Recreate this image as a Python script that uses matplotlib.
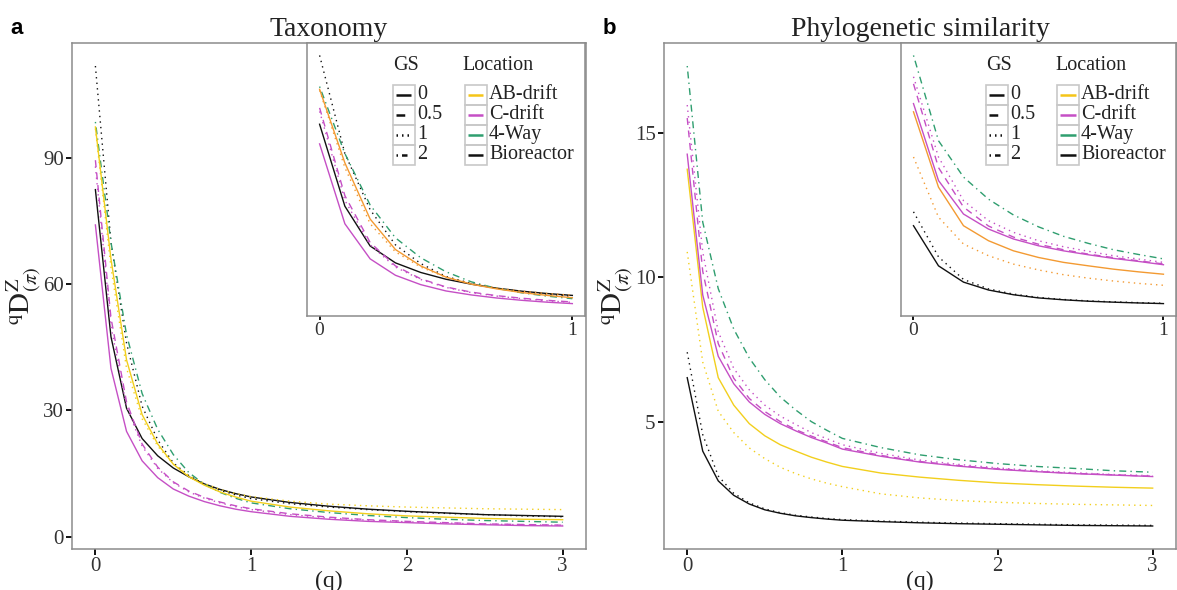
import matplotlib
matplotlib.use("Agg")
import matplotlib.pyplot as plt
from matplotlib.patches import Rectangle
from matplotlib.ticker import MultipleLocator
import numpy as np

plt.rcParams['font.family'] = ['Liberation Serif', 'DejaVu Serif']
plt.rcParams['mathtext.fontset'] = 'stix'

# order of diversity q
q = [0, 0.1, 0.2, 0.3, 0.4, 0.5, 0.6, 0.7, 0.8, 0.9, 1.0,
     1.25, 1.5, 1.75, 2.0, 2.25, 2.5, 2.75, 3.0]

# Taxonomy (panel a)
tax_bio_0 = [82.5, 47.5, 30.5, 23.3, 19.2, 16.3, 14.2, 12.5, 11.2, 10.2, 9.4,
             8.1, 7.2, 6.5, 6.0, 5.6, 5.2, 5.0, 4.8]
tax_bio_1 = [111.9, 70, 46, 31, 23, 17.5, 14.5, 12.4, 11.0, 9.9, 9.0,
             7.8, 7.0, 6.4, 5.9, 5.5, 5.2, 4.9, 4.7]
tax_4way_2 = [98.6, 70, 48, 34, 25.5, 19.5, 15.2, 12.4, 10.5, 9.1, 8.0,
              6.6, 5.7, 5.0, 4.5, 4.1, 3.8, 3.6, 3.4]
tax_ab_0 = [97.4, 66, 42, 29, 22, 17.2, 14.2, 12.2, 10.6, 9.4, 8.4,
            7.0, 6.1, 5.4, 4.9, 4.6, 4.3, 4.1, 4.0]
tax_ab_1 = [97.0, 64, 40, 28, 21.5, 17.2, 14.5, 12.6, 11.2, 10.2, 9.5,
            8.4, 7.7, 7.3, 7.0, 6.8, 6.6, 6.5, 6.4]
tax_c_05 = [89.5, 52, 32, 22, 16.5, 13.0, 10.8, 9.3, 8.2, 7.3, 6.6,
            5.4, 4.6, 4.0, 3.6, 3.3, 3.0, 2.85, 2.7]
tax_c_0 = [74.1, 40, 25, 18, 14, 11.3, 9.6, 8.3, 7.3, 6.5, 5.9,
           4.8, 4.1, 3.6, 3.3, 3.0, 2.8, 2.6, 2.5]
tax_c_1 = [88.0, 50, 31, 21.5, 16.2, 12.8, 10.6, 9.1, 8.0, 7.1, 6.4,
           5.2, 4.4, 3.9, 3.5, 3.2, 2.95, 2.8, 2.65]

# Phylogenetic similarity (panel b)
phy_bio_0 = [6.52, 3.98, 2.95, 2.45, 2.15, 1.95, 1.83, 1.74, 1.68, 1.63, 1.59,
             1.54, 1.50, 1.47, 1.45, 1.43, 1.41, 1.40, 1.39]
phy_bio_1 = [7.40, 4.55, 3.12, 2.52, 2.19, 1.98, 1.85, 1.76, 1.70, 1.65, 1.61,
             1.56, 1.52, 1.49, 1.47, 1.45, 1.43, 1.42, 1.41]
phy_ab_0 = [13.73, 8.96, 6.52, 5.57, 4.93, 4.51, 4.20, 3.98, 3.77, 3.60, 3.45,
            3.22, 3.08, 2.97, 2.88, 2.82, 2.77, 2.73, 2.70]
phy_ab_1 = [10.87, 7.06, 5.36, 4.62, 4.09, 3.72, 3.42, 3.20, 3.02, 2.87, 2.75,
            2.50, 2.36, 2.27, 2.21, 2.17, 2.14, 2.12, 2.10]
phy_c_0 = [14.25, 9.38, 7.26, 6.31, 5.68, 5.25, 4.93, 4.68, 4.45, 4.26, 4.05,
           3.80, 3.60, 3.46, 3.35, 3.27, 3.20, 3.15, 3.10]
phy_c_05 = [15.5, 10.2, 7.7, 6.5, 5.8, 5.35, 5.0, 4.72, 4.5, 4.3, 4.1,
            3.83, 3.62, 3.48, 3.37, 3.28, 3.21, 3.16, 3.11]
phy_c_1 = [15.95, 10.87, 8.11, 6.84, 6.10, 5.57, 5.19, 4.90, 4.62, 4.41, 4.20,
           3.90, 3.67, 3.52, 3.40, 3.30, 3.23, 3.17, 3.13]
phy_4way_2 = [17.3, 11.9, 9.6, 8.2, 7.2, 6.45, 5.85, 5.4, 5.0, 4.7, 4.42,
              4.10, 3.85, 3.68, 3.55, 3.45, 3.38, 3.30, 3.25]

locations = ['AB-drift', 'C-drift', '4-Way', 'Bioreactor']
gs_levels = ['0', '0.5', '1', '2']

# (location, GS, values)
tax_series = [('Bioreactor', '0', tax_bio_0), ('Bioreactor', '1', tax_bio_1),
              ('4-Way', '2', tax_4way_2), ('AB-drift', '0', tax_ab_0),
              ('AB-drift', '1', tax_ab_1), ('C-drift', '0.5', tax_c_05),
              ('C-drift', '0', tax_c_0), ('C-drift', '1', tax_c_1)]
phy_series = [('Bioreactor', '0', phy_bio_0), ('Bioreactor', '1', phy_bio_1),
              ('AB-drift', '0', phy_ab_0), ('AB-drift', '1', phy_ab_1),
              ('C-drift', '0', phy_c_0), ('C-drift', '0.5', phy_c_05),
              ('C-drift', '1', phy_c_1), ('4-Way', '2', phy_4way_2)]

main_colors = {'AB-drift': '#f2cf1d', 'C-drift': '#c54fc5',
               '4-Way': '#2f9e6f', 'Bioreactor': '#111111'}
inset_colors = dict(main_colors, **{'AB-drift': '#f39a32'})
key_colors = dict(main_colors, **{'AB-drift': '#f5c518'})
styles = {'0': '-', '0.5': (0, (5, 4)), '1': (0, (1, 3)), '2': (0, (1, 3, 5, 3))}
key_styles = {'0': '-', '0.5': (1.5, (5, 4)), '1': (0, (0.6, 1.6)),
              '2': (0, (0.6, 1.6, 2.2, 1.6))}

SPINE = '#8c8c8c'


def style_axes(ax):
    for s in ax.spines.values():
        s.set_color(SPINE)
        s.set_linewidth(1.1)


def draw_legend(ax):
    bw, bh = 0.079, 0.073
    gx, lx = 0.309, 0.568
    y0 = 0.81
    ax.text(gx, 0.919, 'GS', transform=ax.transAxes, fontsize=14.5,
            ha='left', va='center', color='#222222')
    ax.text(lx - 0.007, 0.919, 'Location', transform=ax.transAxes, fontsize=14.5,
            ha='left', va='center', color='#222222')
    for i in range(4):
        yc = y0 - i * bh
        for x, col, ls, lab in [(gx, '#111111', key_styles[gs_levels[i]], gs_levels[i]),
                                (lx, key_colors[locations[i]], '-', locations[i])]:
            ax.add_patch(Rectangle((x, yc - bh / 2), bw, bh, transform=ax.transAxes,
                                   fill=False, edgecolor='#c8c8c8', lw=1.2, zorder=5))
            ax.plot([x + 0.012, x + bw - 0.012], [yc, yc], transform=ax.transAxes,
                    color=col, lw=1.8, linestyle=ls, zorder=6,
                    solid_capstyle='butt', dash_capstyle='butt')
            ax.text(x + bw + 0.008, yc, lab, transform=ax.transAxes, fontsize=14.5,
                    ha='left', va='center', color='#222222', zorder=6)


def panel(main_rect, inset_rect, series, title, letter, yticks_step):
    ax = fig.add_axes(main_rect)
    qa = np.array(q)
    for loc, gs, vals in series:
        ax.plot(qa, vals, color=main_colors[loc], linestyle=styles[gs], lw=1.0)
    ax.xaxis.set_major_locator(MultipleLocator(1))
    ax.yaxis.set_major_locator(MultipleLocator(yticks_step))
    ax.margins(0.05)
    style_axes(ax)
    ax.tick_params(direction='out', length=4, width=1.3, colors='black',
                   labelsize=15, labelcolor='#333333', pad=2)
    ax.set_xlabel('(q)', fontsize=17, labelpad=-4, color='#222222')
    ax.set_ylabel(r'$^{\mathrm{q}}\mathrm{D}^{\mathrm{Z}}_{(\pi)}$', fontsize=21,
                  labelpad=0, color='#222222')
    ax.set_title(title, fontsize=20, pad=5, color='#222222')
    fig.text(main_rect[0] - 0.052, 0.952, letter, fontsize=16, fontweight='bold',
             family='Liberation Sans', ha='left', va='center')

    ins = fig.add_axes(inset_rect)
    ins.set_facecolor('white')
    keep = qa <= 1.0
    for loc, gs, vals in series:
        ins.plot(qa[keep], np.array(vals)[keep], color=inset_colors[loc],
                 linestyle=styles[gs], lw=1.0)
    ins.margins(0.05)
    ins.set_xticks([0, 1])
    ins.set_yticks([])
    style_axes(ins)
    ins.tick_params(axis='x', direction='out', length=3, width=1.3, colors='black',
                    labelsize=14, labelcolor='#333333', pad=1)
    draw_legend(ins)
    return ax, ins


fig = plt.figure(figsize=(11.77, 5.90), dpi=100)

panel([0.0612, 0.0695, 0.4367, 0.8576], [0.2608, 0.4644, 0.2362, 0.4627],
      tax_series, 'Taxonomy', 'a', 30)
panel([0.5641, 0.0695, 0.4350, 0.8576], [0.7655, 0.4644, 0.2336, 0.4627],
      phy_series, 'Phylogenetic similarity', 'b', 5)

fig.savefig('out.png', dpi=100)
